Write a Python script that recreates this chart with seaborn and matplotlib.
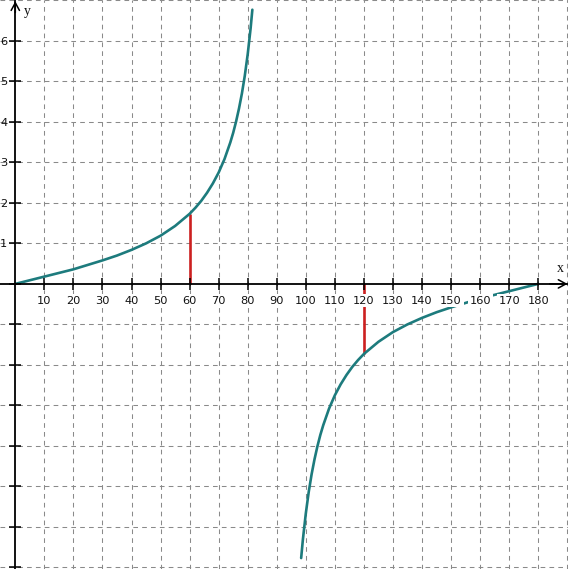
import matplotlib
matplotlib.use("Agg")
import matplotlib.pyplot as plt
import seaborn as sns
import pandas as pd

# ---- data (y = tan x, x in degrees) ----
upper_x = [0, 5, 10, 15, 20, 25, 30, 35, 40, 45, 50, 55, 60, 62, 64, 66, 68, 70,
           72, 74, 75, 76, 77, 78, 79, 80, 81, 81.6]
upper_y = [0, 0.09, 0.18, 0.27, 0.36, 0.47, 0.58, 0.70, 0.84, 1.00, 1.19, 1.43,
           1.73, 1.88, 2.05, 2.25, 2.48, 2.75, 3.08, 3.49, 3.73, 4.01, 4.33, 4.70,
           5.14, 5.67, 6.31, 6.77]
lower_x = [98.4, 99, 100, 101, 102, 103, 104, 105, 106, 108, 110, 112, 114, 116,
           118, 120, 125, 130, 135, 140, 145, 150, 155, 160, 165, 170, 175, 180]
lower_y = [-6.77, -6.31, -5.67, -5.14, -4.70, -4.33, -4.01, -3.73, -3.49, -3.08,
           -2.75, -2.48, -2.25, -2.05, -1.88, -1.73, -1.43, -1.19, -1.00, -0.84,
           -0.70, -0.58, -0.47, -0.36, -0.27, -0.18, -0.09, 0]
red_x = [60, 120]
red_y = [1.73, -1.73]

x_ticks = list(range(10, 181, 10))
x_tick_labels = [str(v) for v in x_ticks]
y_ticks = list(range(-7, 7))
y_tick_labels = [str(v) if v > 0 else "" for v in y_ticks]
grid_x = list(range(10, 191, 10))
grid_y = [v for v in range(-7, 8) if v != 0]

sns.set_theme(style="white")
plt.rcParams["font.family"] = ["DejaVu Sans"]

fig = plt.figure(figsize=(5.68, 5.69), dpi=100)
ax = fig.add_axes([0, 0, 1, 1])
ax.set_facecolor("white")

XMIN, XMAX = -5.27, 190.26
YMIN, YMAX = -7.04, 7.01
ax.set_xlim(XMIN, XMAX)
ax.set_ylim(YMIN, YMAX)

# grid
for gx in grid_x:
    ax.axvline(gx, color="#8a8a8a", lw=0.75, ls=(0, (4.5, 4)), zorder=0.5)
for gy in grid_y:
    ax.axhline(gy, color="#8a8a8a", lw=0.75, ls=(0, (4.5, 4)), zorder=0.5)

teal = "#1d7b7d"
df_up = pd.DataFrame({"x": upper_x, "y": upper_y})
df_lo = pd.DataFrame({"x": lower_x, "y": lower_y})
sns.lineplot(data=df_up, x="x", y="y", ax=ax, color=teal, lw=1.9, sort=False,
             estimator=None, zorder=2)
sns.lineplot(data=df_lo, x="x", y="y", ax=ax, color=teal, lw=1.9, sort=False,
             estimator=None, zorder=2)
ax.vlines(red_x, 0, red_y, color="#cc2020", lw=1.9, zorder=1.9)

# axes through origin
for side in ["top", "right"]:
    ax.spines[side].set_visible(False)
ax.spines["left"].set_position(("data", 0))
ax.spines["bottom"].set_position(("data", 0))
for side in ["left", "bottom"]:
    ax.spines[side].set_color("black")
    ax.spines[side].set_linewidth(1.3)
ax.set_axisbelow(False)

ax.set_xticks(x_ticks)
ax.set_xticklabels(x_tick_labels)
ax.set_yticks(y_ticks)
ax.set_yticklabels(y_tick_labels)
ax.tick_params(axis="both", direction="inout", length=8.6, width=1.1,
               color="black", labelsize=8.2, labelcolor="#111111")
ax.tick_params(axis="x", pad=4.2, bottom=True)
ax.tick_params(axis="y", pad=1.5, left=True)
for lab in ax.get_xticklabels():
    lab.set_bbox(dict(facecolor="white", edgecolor="none", boxstyle="square,pad=0.15"))

ax.set_xlabel("")
ax.set_ylabel("")

# arrow heads
ax.annotate("", xy=(190.1, 0), xytext=(184, 0),
            arrowprops=dict(arrowstyle="->,head_length=0.55,head_width=0.3",
                            color="black", lw=1.1, shrinkA=0, shrinkB=0,
                            mutation_scale=10), zorder=3)
ax.annotate("", xy=(0, 6.98), xytext=(0, 6.7),
            arrowprops=dict(arrowstyle="->,head_length=0.55,head_width=0.3",
                            color="black", lw=1.1, shrinkA=0, shrinkB=0,
                            mutation_scale=10), zorder=3)

ax.text(187.5, 0.37, "x", family=["Liberation Serif"], fontsize=10,
        ha="center", va="center", color="#111111")
ax.text(4.0, 6.72, "y", family=["Liberation Serif"], fontsize=10,
        ha="center", va="center", color="#111111")

fig.savefig("out.png", dpi=100)
